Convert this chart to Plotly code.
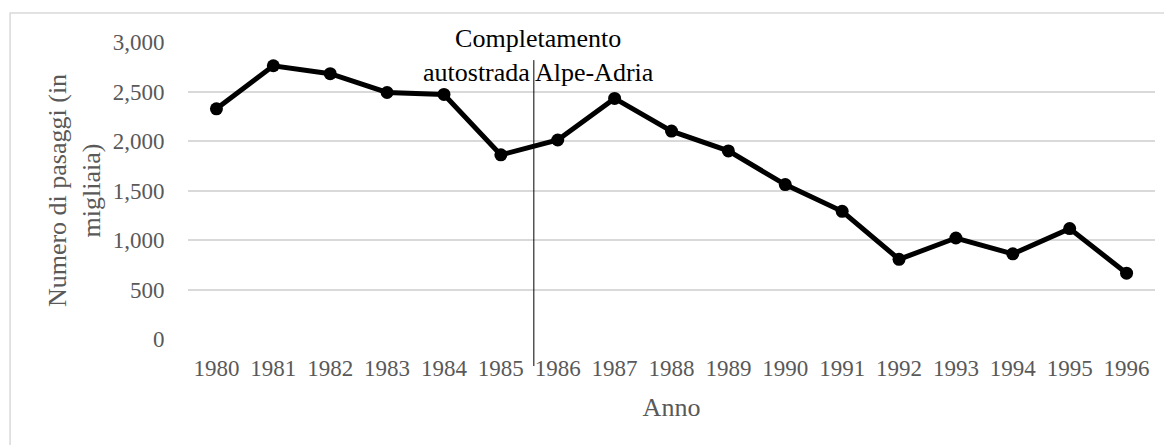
import plotly.graph_objects as go

# Passaggi annui (in migliaia)
anni = ['1980', '1981', '1982', '1983', '1984', '1985', '1986', '1987', '1988',
        '1989', '1990', '1991', '1992', '1993', '1994', '1995', '1996']
passaggi = [2325, 2760, 2680, 2490, 2470, 1860, 2010, 2430, 2100,
            1900, 1560, 1290, 805, 1020, 860, 1115, 665]
y_ticks = [0, 500, 1000, 1500, 2000, 2500, 3000]

# posizione dell'evento sull'asse delle categorie (tra 1985 e 1986)
evento_pos = 5.58
evento_testo = 'Completamento<br>autostrada Alpe-Adria'

FONT = 'Liberation Serif, Times New Roman, serif'
GREY = '#595959'
GRID = '#d9d9d9'

fig = go.Figure()

fig.add_trace(go.Scatter(
    x=list(range(len(anni))),
    y=passaggi,
    mode='lines+markers',
    line=dict(color='black', width=5),
    marker=dict(color='black', size=13),
    showlegend=False,
    cliponaxis=False
))

# linea verticale dell'evento
fig.add_shape(type='line', xref='x', yref='paper',
              x0=evento_pos, x1=evento_pos, y0=-0.091, y1=0.939,
              line=dict(color='black', width=1))

fig.add_annotation(x=evento_pos, xref='x', y=0.953, yref='paper',
                   text=evento_testo, showarrow=False, xshift=5,
                   yanchor='middle', align='center',
                   font=dict(family=FONT, size=26, color='black'))

# bordo del grafico
fig.add_shape(type='rect', xref='paper', yref='paper',
              x0=-0.184, x1=1.03, y0=-0.5, y1=1.0976,
              line=dict(color=GRID, width=1.5), layer='below')

fig.update_xaxes(
    range=[-0.5, len(anni) - 0.5],
    tickvals=list(range(len(anni))),
    ticktext=anni,
    showgrid=False, zeroline=False, showline=False,
    ticks='outside', ticklen=8, tickcolor='rgba(0,0,0,0)',
    tickfont=dict(family=FONT, size=23, color=GREY),
    title=dict(text='Anno', font=dict(family=FONT, size=26, color=GREY), standoff=18)
)
fig.update_yaxes(
    range=[0, 3000],
    tickvals=y_ticks,
    tickformat=',d',
    showgrid=True, gridcolor=GRID, gridwidth=1.5,
    zeroline=False, showline=False,
    ticks='outside', ticklen=18, tickcolor='rgba(0,0,0,0)',
    tickfont=dict(family=FONT, size=23, color=GREY),
    title=dict(text='Numero di pasaggi (in<br>migliaia)',
               font=dict(family=FONT, size=26, color=GREY), standoff=4)
)

# la pagina ha un margine di 8px: figura più piccola e margini spostati
fig.update_layout(
    width=1164, height=437,
    margin=dict(l=180, r=17, t=34, b=106),
    plot_bgcolor='white', paper_bgcolor='white',
    font=dict(family=FONT)
)

fig.write_html('out.html')
